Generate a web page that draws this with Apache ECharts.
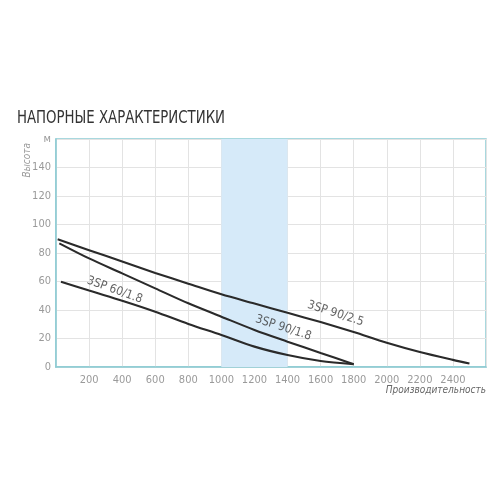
<!DOCTYPE html>
<html><head><meta charset="utf-8">
<script src="https://cdn.jsdelivr.net/npm/echarts@6/dist/echarts.min.js"></script>
<style>html,body{margin:0;padding:0;background:#fff}#c{width:500px;height:500px}</style>
</head><body><div id="c"></div>
<script>
var titleText = 'НАПОРНЫЕ ХАРАКТЕРИСТИКИ';
var yName = 'Высота';
var xName = 'Производительность';
var yUnit = 'м';
var names = ['3SP 90/2.5', '3SP 90/1.8', '3SP 60/1.8'];
var q90_25 = [10, 200, 400, 600, 800, 1000, 1200, 1400, 1600, 1800, 2000, 2200, 2400, 2500];
var h90_25 = [89.6, 82, 74, 66, 58.5, 51, 44.5, 38, 31.5, 24.5, 17, 10.5, 5, 2.5];
var q90_18 = [20, 200, 400, 600, 800, 1000, 1200, 1400, 1600, 1800];
var h90_18 = [86.8, 76.2, 65.7, 55.2, 44.7, 35.3, 26, 17.8, 9.8, 2];
var q60_18 = [30, 200, 400, 600, 800, 1000, 1200, 1400, 1600, 1800];
var h60_18 = [59.9, 53.6, 46.5, 38.8, 30.2, 22.5, 14.3, 8.4, 4.2, 2];
var band = [1000, 1400];
var xTicks = [0, 2600, 200];
var yTicks = [0, 160, 20];

function pairs(q, h) { return q.map(function (v, i) { return [v, h[i]]; }); }
var FONT = '"DejaVu Sans Condensed", "Liberation Sans Narrow", sans-serif';
var chart = echarts.init(document.getElementById('c'));
function lineSeries(name, q, h, extra) {
  var s = {
    name: name, type: 'line', data: pairs(q, h), smooth: 0.3, symbol: 'none',
    lineStyle: { color: '#2a2a2a', width: 2.1 }, z: 5
  };
  if (extra) for (var k in extra) s[k] = extra[k];
  return s;
}
function labelSeries(name, pt, rot) {
  return {
    type: 'scatter', data: [pt], symbolSize: 0, silent: true, z: 6,
    label: { show: true, position: 'inside', formatter: name, rotate: rot,
      fontFamily: FONT, fontSize: 12, color: '#3a3a3a' }
  };
}
chart.setOption({
  animation: false,
  grid: { left: 56, right: 14, top: 139, bottom: 133, show: true, borderColor: '#8ccbd3', borderWidth: 1.5 },
  xAxis: {
    type: 'value', min: xTicks[0], max: xTicks[1], interval: xTicks[2],
    axisLine: { show: true, lineStyle: { color: '#8ccbd3', width: 1.5 } },
    axisTick: { show: false },
    splitLine: { lineStyle: { color: '#e3e3e3' } },
    axisLabel: { color: '#9a9a9a', fontFamily: FONT, fontSize: 11, margin: 8,
      formatter: function (v) { return (v === 0 || v === 2600) ? '' : v; } }
  },
  yAxis: {
    type: 'value', min: yTicks[0], max: yTicks[1], interval: yTicks[2],
    axisLine: { show: true, lineStyle: { color: '#8ccbd3', width: 1.5 } },
    axisTick: { show: false },
    splitLine: { lineStyle: { color: '#e3e3e3' } },
    axisLabel: { color: '#9a9a9a', fontFamily: FONT, fontSize: 11, margin: 5,
      formatter: function (v) { return v === 160 ? yUnit : v; } }
  },
  graphic: [
    { type: 'text', left: 17, top: 110, scaleX: 0.87,
      style: { text: titleText, fontFamily: FONT, fontSize: 17, fill: '#333' } },
    { type: 'text', left: 22, top: 143, rotation: Math.PI / 2,
      style: { text: yName, fontFamily: FONT, fontStyle: 'italic', fontSize: 10, fill: '#9a9a9a' } },
    { type: 'text', right: 14, top: 385,
      style: { text: xName, fontFamily: FONT, fontStyle: 'italic', fontSize: 10, fill: '#666' } }
  ],
  series: [
    lineSeries(names[0], q90_25, h90_25, {
      markArea: { silent: true, itemStyle: { color: '#d6eaf9' }, data: [[{ xAxis: band[0] }, { xAxis: band[1] }]] }
    }),
    lineSeries(names[1], q90_18, h90_18),
    lineSeries(names[2], q60_18, h60_18),
    labelSeries(names[0], [1690, 37.5], -18),
    labelSeries(names[1], [1375, 27.5], -18),
    labelSeries(names[2], [355, 54], -20)
  ]
});
</script></body></html>
